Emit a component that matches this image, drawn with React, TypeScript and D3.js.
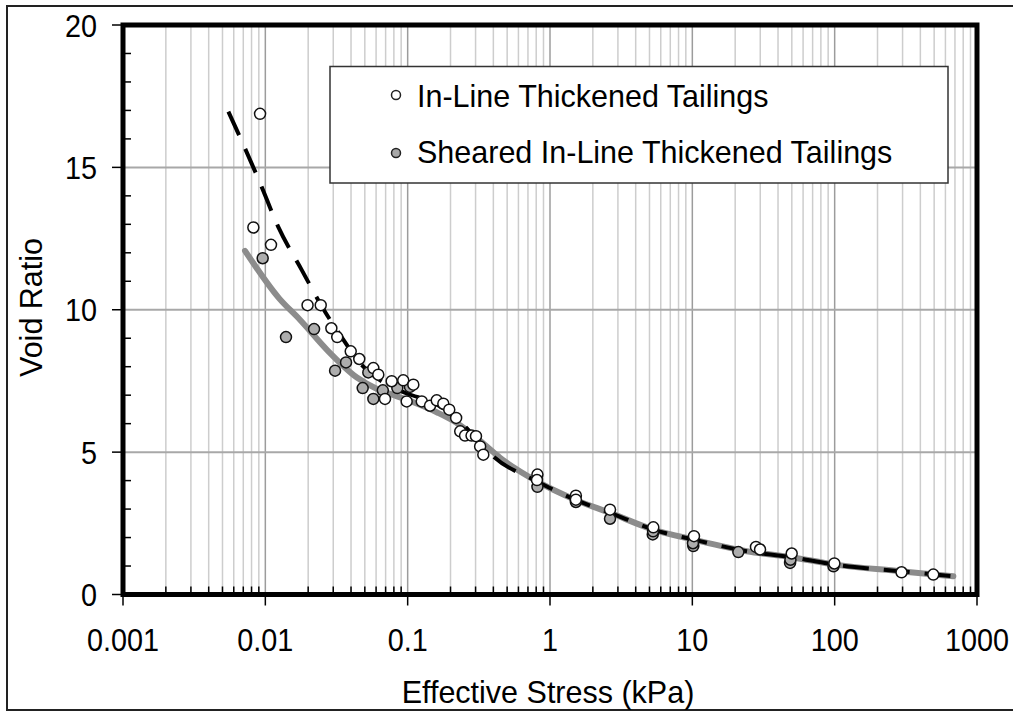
import React from "react";
import * as d3 from "d3";

// In-line thickened tailings (open symbols): effective stress (kPa), void ratio
const inlineStress = [
  0.00918, 0.00824, 0.01096, 0.0198, 0.0245, 0.0291, 0.032, 0.0398, 0.0457, 0.0574,
  0.0622, 0.0772, 0.0931, 0.0693, 0.0984, 0.1096, 0.1256, 0.1436, 0.16, 0.178,
  0.196, 0.219, 0.234, 0.253, 0.281, 0.302, 0.323, 0.34, 0.816, 0.81,
  1.52, 1.52, 2.64, 5.32, 10.27, 28.0, 29.9, 49.9, 99.5, 295, 493,
];
const inlineVoid = [
  16.88, 12.89, 12.28, 10.16, 10.16, 9.35, 9.04, 8.54, 8.27, 7.95,
  7.72, 7.49, 7.52, 6.87, 6.78, 7.37, 6.78, 6.63, 6.82, 6.7,
  6.49, 6.2, 5.73, 5.58, 5.58, 5.56, 5.2, 4.91, 4.21, 4.02,
  3.47, 3.33, 2.98, 2.36, 2.05, 1.67, 1.58, 1.44, 1.09, 0.78, 0.7,
];

// Sheared in-line thickened tailings (grey symbols)
const shearedStress = [
  0.00958, 0.01397, 0.022, 0.0309, 0.0369, 0.0483, 0.0529, 0.0574, 0.0669, 0.0846,
  0.1038, 0.816, 1.52, 2.64, 5.27, 5.3, 10.16, 10.1, 21.05, 48.6, 48.9, 98.1,
];
const shearedVoid = [
  11.81, 9.04, 9.32, 7.86, 8.15, 7.25, 7.8, 6.87, 7.17, 7.25,
  7.29, 3.78, 3.25, 2.66, 2.11, 2.22, 1.7, 1.8, 1.49, 1.11, 1.22, 0.99,
];

// Fitted compressibility curves
const shearedFitStress = [
  0.0072, 0.0125, 0.0175, 0.027, 0.044, 0.061, 0.08, 0.11, 0.16, 0.209, 0.28, 0.34, 0.446,
  0.806, 1.5, 2.64, 5.32, 10.16, 24.1, 48.6, 100, 287, 682,
];
const shearedFitVoid = [
  12.07, 10.4, 9.65, 8.6, 7.62, 7.22, 7.0, 6.75, 6.4, 6.1, 5.65, 5.3, 4.8,
  3.98, 3.33, 2.87, 2.28, 1.93, 1.52, 1.32, 1.05, 0.82, 0.64,
];
const inlineFitStress = [
  0.0055, 0.0091, 0.0123, 0.018, 0.0262, 0.0353, 0.045, 0.07, 0.1, 0.15,
  0.22, 0.3, 0.4, 0.806, 1.5, 2.64, 5.32, 10.16, 24.1, 48.6, 100, 287, 682,
];
const inlineFitVoid = [
  16.96, 14.5, 12.92, 11.4, 9.94, 8.95, 8.2, 7.4, 7.05, 6.75,
  6.2, 5.5, 4.85, 3.98, 3.33, 2.87, 2.28, 1.93, 1.52, 1.32, 1.05, 0.82, 0.64,
];

const xMajorTicks = [0.001, 0.01, 0.1, 1, 10, 100, 1000];
const xTickLabels = ["0.001", "0.01", "0.1", "1", "10", "100", "1000"];
const yMajorTicks = [0, 5, 10, 15, 20];
const legendLabels = ["In-Line Thickened Tailings", "Sheared In-Line Thickened Tailings"];

const FONT = "'Liberation Sans', Arial, sans-serif";

export default function App() {
  const left = 123;
  const right = 977;
  const top = 25;
  const bottom = 594.5;

  const x = d3.scaleLog().domain([0.001, 1000]).range([left, right]);
  const y = d3.scaleLinear().domain([0, 20]).range([bottom, top]);

  const minorX: number[] = [];
  for (let p = -3; p < 3; p++) {
    for (let m = 2; m <= 9; m++) minorX.push(m * Math.pow(10, p));
  }
  const minorY = d3.range(0, 21).filter((v) => v % 5 !== 0);

  const line = d3
    .line<[number, number]>()
    .x((d) => x(d[0]))
    .y((d) => y(d[1]))
    .curve(d3.curveMonotoneX);

  const shearedFit = line(shearedFitStress.map((s, i) => [s, shearedFitVoid[i]]) as [number, number][]) || "";
  const inlineFit = line(inlineFitStress.map((s, i) => [s, inlineFitVoid[i]]) as [number, number][]) || "";

  return (
    <svg width={1013} height={713} style={{ position: "absolute", left: 0, top: 0 }} fontFamily={FONT}>
      <rect x={0} y={0} width={1013} height={713} fill="#fff" />
      {/* outer frame */}
      <rect x={7} y={6} width={1020} height={704} fill="none" stroke="#222" strokeWidth={2} />

      {/* grid */}
      {minorX.map((v, i) => (
        <line key={"gx" + i} x1={x(v)} x2={x(v)} y1={top} y2={bottom} stroke="#cdcdcd" strokeWidth={1.5} />
      ))}
      {xMajorTicks.map((v, i) => (
        <line key={"gX" + i} x1={x(v)} x2={x(v)} y1={top} y2={bottom} stroke="#9c9c9c" strokeWidth={1.5} />
      ))}
      {yMajorTicks.map((v, i) => (
        <line key={"gy" + i} x1={left} x2={right} y1={y(v)} y2={y(v)} stroke="#a8a8a8" strokeWidth={2} />
      ))}

      {/* legend */}
      <rect x={330} y={66.5} width={618} height={116.5} fill="#fff" stroke="#333" strokeWidth={1.5} />
      <circle cx={396} cy={95} r={4.5} fill="#fff" stroke="#222" strokeWidth={1.5} />
      <circle cx={396} cy={153} r={4.5} fill="#a8a8a8" stroke="#222" strokeWidth={1.5} />
      <text x={417} y={107} fontSize={30.5} fill="#000">{legendLabels[0]}</text>
      <text x={417} y={163} fontSize={30.5} fill="#000">{legendLabels[1]}</text>

      {/* fitted curves */}
      <path d={shearedFit} fill="none" stroke="#8c8c8c" strokeWidth={6} strokeLinecap="round" />
      <path d={inlineFit} fill="none" stroke="#000" strokeWidth={4} strokeDasharray="26 15" />

      {/* data points */}
      {shearedStress.map((s, i) => (
        <circle key={"s" + i} cx={x(s)} cy={y(shearedVoid[i])} r={5.5} fill="#adadad" stroke="#111" strokeWidth={1.5} />
      ))}
      {inlineStress.map((s, i) => (
        <circle key={"o" + i} cx={x(s)} cy={y(inlineVoid[i])} r={5.5} fill="#fff" stroke="#111" strokeWidth={1.5} />
      ))}

      {/* ticks */}
      {minorX.map((v, i) => (
        <line key={"tx" + i} x1={x(v)} x2={x(v)} y1={bottom} y2={bottom - 8} stroke="#000" strokeWidth={1.5} />
      ))}
      {xMajorTicks.map((v, i) => (
        <line key={"tX" + i} x1={x(v)} x2={x(v)} y1={bottom} y2={bottom + 11} stroke="#000" strokeWidth={1.5} />
      ))}
      {minorY.map((v, i) => (
        <line key={"ty" + i} x1={left} x2={left + 8} y1={y(v)} y2={y(v)} stroke="#000" strokeWidth={1.5} />
      ))}
      {yMajorTicks.map((v, i) => (
        <line key={"tY" + i} x1={left - 11} x2={left} y1={y(v)} y2={y(v)} stroke="#000" strokeWidth={1.5} />
      ))}

      {/* plot frame */}
      <rect x={left} y={top} width={right - left} height={bottom - top} fill="none" stroke="#000" strokeWidth={5} />

      {/* tick labels */}
      {xMajorTicks.map((v, i) => (
        <text
          key={"lx" + i}
          transform={`translate(${x(v)},651) scale(0.9,1)`}
          fontSize={32}
          textAnchor="middle"
          fill="#000"
        >
          {xTickLabels[i]}
        </text>
      ))}
      {yMajorTicks.map((v, i) => (
        <text
          key={"ly" + i}
          transform={`translate(97,${y(v) + 11.5}) scale(0.9,1)`}
          fontSize={32}
          textAnchor="end"
          fill="#000"
        >
          {String(v)}
        </text>
      ))}

      {/* axis titles */}
      <text x={548} y={703} fontSize={30.5} textAnchor="middle" fill="#000">
        Effective Stress (kPa)
      </text>
      <text transform="translate(42,307.5) rotate(-90)" fontSize={30.5} textAnchor="middle" fill="#000">
        Void Ratio
      </text>
    </svg>
  );
}
